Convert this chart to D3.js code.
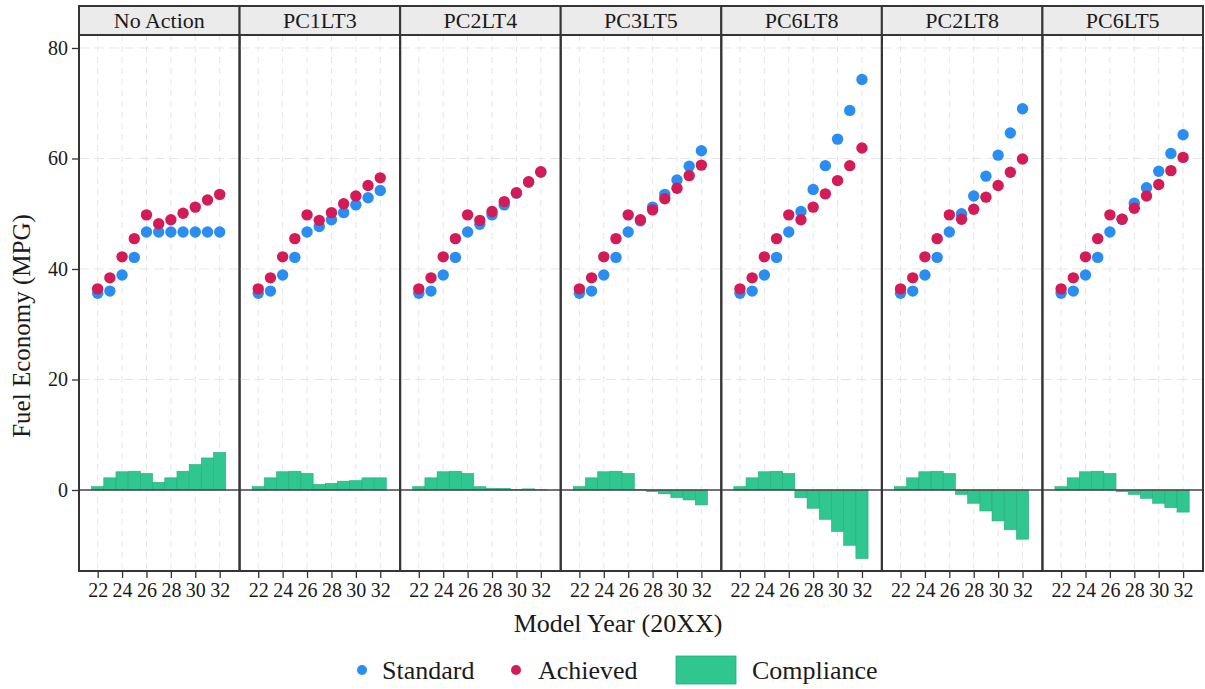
<!DOCTYPE html>
<html>
<head>
<meta charset="utf-8">
<script src="https://cdn.jsdelivr.net/npm/d3@7/dist/d3.min.js"></script>
<style>
  html, body { margin: 0; padding: 0; background: #fff; }
  svg { display: block; }
  text { font-family: "Liberation Serif", "DejaVu Serif", serif; fill: #1a1a1a; }
</style>
</head>
<body>
<svg id="chart" width="1205" height="689"></svg>
<script>
const scenarios = ["No Action", "PC1LT3", "PC2LT4", "PC3LT5", "PC6LT8", "PC2LT8", "PC6LT5"];
const years = [22, 23, 24, 25, 26, 27, 28, 29, 30, 31, 32];
const xTicks = [22, 24, 26, 28, 30, 32];
const yTicks = [0, 20, 40, 60, 80];

// one row per scenario, in the order of `scenarios`
const standardValues = [
  [35.6, 36.0, 38.9, 42.1, 46.7, 46.7, 46.7, 46.7, 46.7, 46.7, 46.7],
  [35.6, 36.0, 38.9, 42.1, 46.7, 47.7, 48.9, 50.2, 51.6, 52.9, 54.2],
  [35.6, 36.0, 38.9, 42.1, 46.7, 48.1, 49.8, 51.6, 53.7, 55.7, 57.5],
  [35.6, 36.0, 38.9, 42.1, 46.7, 48.7, 51.2, 53.5, 56.1, 58.6, 61.4],
  [35.6, 36.0, 38.9, 42.1, 46.7, 50.4, 54.4, 58.7, 63.5, 68.7, 74.3],
  [35.6, 36.0, 38.9, 42.1, 46.7, 50.0, 53.2, 56.8, 60.6, 64.6, 69.0],
  [35.6, 36.0, 38.9, 42.1, 46.7, 49.0, 51.9, 54.7, 57.7, 60.9, 64.3]
];
const achievedValues = [
  [36.4, 38.4, 42.2, 45.5, 49.8, 48.2, 48.9, 50.1, 51.2, 52.5, 53.5],
  [36.4, 38.4, 42.2, 45.5, 49.8, 48.8, 50.2, 51.8, 53.2, 55.1, 56.5],
  [36.4, 38.4, 42.2, 45.5, 49.8, 48.8, 50.4, 52.2, 53.8, 55.8, 57.6],
  [36.4, 38.4, 42.2, 45.5, 49.8, 48.9, 50.7, 52.7, 54.6, 56.9, 58.8],
  [36.4, 38.4, 42.2, 45.5, 49.8, 48.9, 51.2, 53.6, 56.0, 58.7, 61.9],
  [36.4, 38.4, 42.2, 45.5, 49.8, 49.0, 50.8, 53.0, 55.1, 57.5, 59.9],
  [36.4, 38.4, 42.2, 45.5, 49.8, 49.0, 51.0, 53.2, 55.3, 57.8, 60.2]
];
const complianceValues = [
  [0.6, 2.2, 3.3, 3.4, 3.0, 1.4, 2.2, 3.4, 4.6, 5.8, 6.8],
  [0.6, 2.2, 3.3, 3.4, 3.0, 1.0, 1.2, 1.6, 1.7, 2.2, 2.2],
  [0.6, 2.2, 3.3, 3.4, 3.0, 0.6, 0.3, 0.3, 0.1, 0.2, 0.05],
  [0.6, 2.2, 3.3, 3.4, 3.0, 0.1, -0.3, -0.7, -1.4, -1.8, -2.7],
  [0.6, 2.2, 3.3, 3.4, 3.0, -1.4, -3.3, -5.3, -7.5, -10.0, -12.4],
  [0.6, 2.2, 3.3, 3.4, 3.0, -0.8, -2.4, -3.8, -5.6, -7.2, -8.9],
  [0.6, 2.2, 3.3, 3.4, 3.0, -0.3, -0.8, -1.5, -2.4, -3.2, -4.0]
];

const colStandard = "#2a8df2";
const colAchieved = "#d21b57";
const colCompliance = "#2fc68f";
const colComplianceStroke = "#25ad7b";
const colFrame = "#353535";

const svg = d3.select("#chart");
svg.append("rect").attr("width", 1205).attr("height", 689).attr("fill", "#fff");

const left = 79, right = 1203, stripTop = 6, panelTop = 35, panelBottom = 571;
const pw = (right - left) / scenarios.length;

const y = d3.scaleLinear().domain([-14.66, 82.35]).range([panelBottom, panelTop]);
const x = d3.scaleLinear().domain([20.47, 33.63]).range([0, pw]);
const band = x(23) - x(22);

scenarios.forEach((name, i) => {
  const g = svg.append("g").attr("transform", `translate(${left + i * pw},0)`);

  // grid
  g.append("g").selectAll("line.vg").data(xTicks).join("line")
    .attr("x1", d => x(d)).attr("x2", d => x(d))
    .attr("y1", panelTop).attr("y2", panelBottom)
    .attr("stroke", "#e6e6e6").attr("stroke-width", 1).attr("stroke-dasharray", "6,5");
  g.append("g").selectAll("line.hg").data(yTicks.filter(d => d !== 0)).join("line")
    .attr("x1", 0).attr("x2", pw)
    .attr("y1", d => y(d)).attr("y2", d => y(d))
    .attr("stroke", "#e6e6e6").attr("stroke-width", 1).attr("stroke-dasharray", "10,5");

  // compliance bars
  const comp = years.map((yr, j) => ({ yr, v: complianceValues[i][j] }));
  g.append("g").selectAll("rect").data(comp).join("rect")
    .attr("x", d => x(d.yr) - band / 2)
    .attr("width", band)
    .attr("y", d => Math.min(y(d.v), y(0)))
    .attr("height", d => Math.abs(y(d.v) - y(0)))
    .attr("fill", colCompliance)
    .attr("stroke", colComplianceStroke).attr("stroke-width", 0.6);

  // zero line
  g.append("line").attr("x1", 0).attr("x2", pw).attr("y1", y(0)).attr("y2", y(0))
    .attr("stroke", "#444").attr("stroke-width", 1.5);

  // points
  const std = years.map((yr, j) => ({ yr, v: standardValues[i][j] }));
  const ach = years.map((yr, j) => ({ yr, v: achievedValues[i][j] }));
  g.append("g").selectAll("circle").data(std).join("circle")
    .attr("cx", d => x(d.yr)).attr("cy", d => y(d.v)).attr("r", 5.7).attr("fill", colStandard);
  g.append("g").selectAll("circle").data(ach).join("circle")
    .attr("cx", d => x(d.yr)).attr("cy", d => y(d.v)).attr("r", 5.7).attr("fill", colAchieved);

  // panel frame
  g.append("rect").attr("x", 0).attr("y", panelTop).attr("width", pw).attr("height", panelBottom - panelTop)
    .attr("fill", "none").attr("stroke", colFrame).attr("stroke-width", 2);

  // strip
  g.append("rect").attr("x", 0).attr("y", stripTop).attr("width", pw).attr("height", panelTop - stripTop)
    .attr("fill", "#ebebeb").attr("stroke", colFrame).attr("stroke-width", 2);
  g.append("text").attr("x", pw / 2).attr("y", (stripTop + panelTop) / 2 + 7.5)
    .attr("text-anchor", "middle").attr("font-size", 22).text(name);

  // x axis
  const xAxis = d3.axisBottom(x).tickValues(xTicks).tickSize(7).tickPadding(5).tickFormat(d3.format("d"));
  const ax = g.append("g").attr("transform", `translate(0,${panelBottom})`).call(xAxis);
  ax.select(".domain").remove();
  ax.selectAll(".tick line").attr("stroke", "#333").attr("stroke-width", 1.3);
  ax.selectAll(".tick text").attr("font-size", 20).attr("font-family", "Liberation Serif").attr("fill", "#1a1a1a");
});

// y axis
const yAxis = d3.axisLeft(y).tickValues(yTicks).tickSize(7).tickPadding(4).tickFormat(d3.format("d"));
const ay = svg.append("g").attr("transform", `translate(${left},0)`).call(yAxis);
ay.select(".domain").remove();
ay.selectAll(".tick line").attr("stroke", "#333").attr("stroke-width", 1.3);
ay.selectAll(".tick text").attr("font-size", 20).attr("font-family", "Liberation Serif").attr("fill", "#1a1a1a");

// axis titles
svg.append("text").attr("x", 618).attr("y", 632).attr("text-anchor", "middle")
  .attr("font-size", 26).text("Model Year (20XX)");
svg.append("text").attr("transform", "translate(30,326) rotate(-90)").attr("text-anchor", "middle")
  .attr("font-size", 25).text("Fuel Economy (MPG)");

// legend
const lg = svg.append("g");
lg.append("circle").attr("cx", 362).attr("cy", 670).attr("r", 5).attr("fill", colStandard);
lg.append("text").attr("x", 382).attr("y", 679).attr("font-size", 26).text("Standard");
lg.append("circle").attr("cx", 516).attr("cy", 670).attr("r", 5).attr("fill", colAchieved);
lg.append("text").attr("x", 538).attr("y", 679).attr("font-size", 26).text("Achieved");
lg.append("rect").attr("x", 676).attr("y", 656).attr("width", 60).attr("height", 28)
  .attr("fill", colCompliance).attr("stroke", colComplianceStroke).attr("stroke-width", 0.8);
lg.append("text").attr("x", 752).attr("y", 679).attr("font-size", 26).text("Compliance");
</script>
</body>
</html>
